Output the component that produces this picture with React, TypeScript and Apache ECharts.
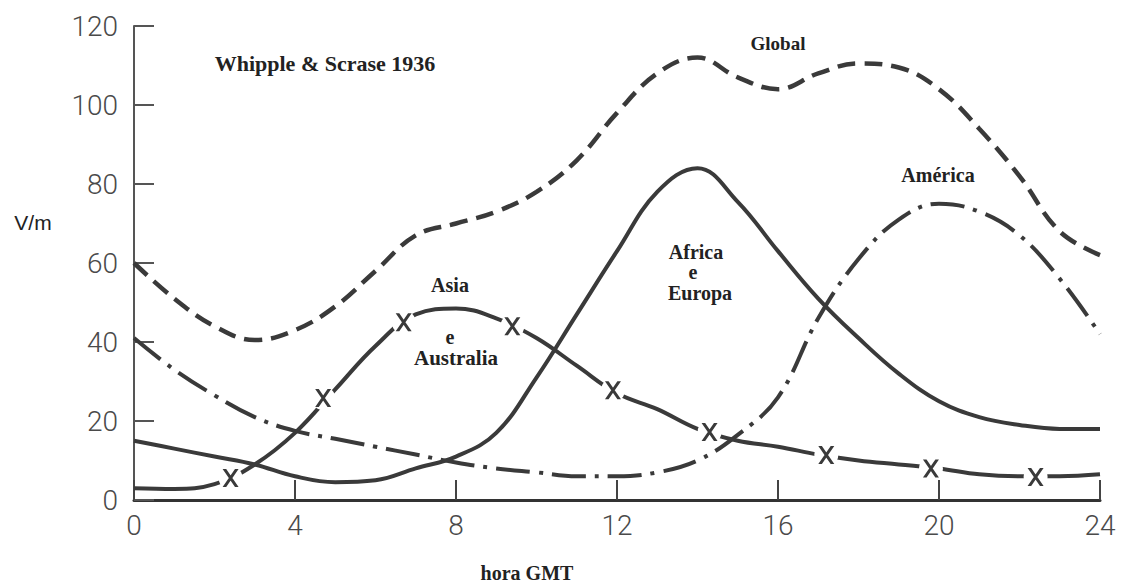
import React, { useEffect, useRef } from "react";
import * as echarts from "echarts";

const hours = [0, 1, 2, 3, 4, 5, 6, 7, 8, 9, 10, 11, 12, 13, 14, 15, 16, 17, 18, 19, 20, 21, 22, 23, 24];
const globalValues = [60, 51, 44, 40.5, 43, 49, 58, 67, 70, 73, 78, 86, 98, 108, 112, 107, 104, 108, 110.5, 109.5, 104, 94, 82, 68, 62];
const africaEuropaValues = [15, 13, 11, 9, 6, 4.5, 5, 8, 11, 17, 31, 47, 63, 78, 84, 75.5, 63, 51, 41, 32, 25, 21, 19, 18, 18];
const americaValues = [41, 33, 26.5, 21, 17.5, 15.5, 13.5, 11.5, 9.5, 8, 7, 6, 6, 7, 10, 16.5, 26, 46, 61, 71, 75, 73, 67, 56, 42];
const asiaValues = [3, 2.8, 4, 9, 17, 28, 39, 47, 48.5, 46, 41, 34, 27, 23, 18, 15, 13.5, 11.5, 10, 9, 8, 6.5, 6, 6, 6.5];
const asiaMarkerHours = [2.4, 4.7, 6.7, 9.4, 11.9, 14.3, 17.2, 19.8, 22.4];
const asiaMarkerValues = [5.6, 25.8, 45, 44, 27.8, 17.2, 11.4, 8, 5.8];

const zip = (xs: number[], ys: number[]) => xs.map((x, i) => [x, ys[i]]);

const INK = "#3a3a3a";
const X_PATH = "path://M0,0L3.6,0L16,18L12.4,18Z M12.4,0L16,0L3.6,18L0,18Z";

export default function App() {
  const ref = useRef<HTMLDivElement>(null);
  useEffect(() => {
    if (!ref.current) return;
    const chart = echarts.init(ref.current, undefined, { renderer: "svg" });
    const serif = '"Liberation Serif", "Times New Roman", serif';
    const txt = (text: string, x: number, y: number, size: number, font = serif, weight = "bold") => ({
      type: "text",
      x,
      y,
      z: 10,
      style: {
        text,
        fill: "#222",
        font: `${weight} ${size}px ${font}`,
        textAlign: "center",
        textVerticalAlign: "middle",
        align: "center",
        verticalAlign: "middle",
      },
    });
    chart.setOption({
      animation: false,
      backgroundColor: "#fff",
      grid: { left: 134, right: 27, top: 26, bottom: 84, containLabel: false },
      xAxis: {
        type: "value",
        min: 0,
        max: 24,
        interval: 4,
        splitLine: { show: false },
        axisLine: { show: true, lineStyle: { color: "#333", width: 3 } },
        axisTick: { show: true, inside: true, length: 20, lineStyle: { color: "#444", width: 2 } },
        axisLabel: { fontSize: 28, fontFamily: "Roboto", fontWeight: 300, color: "#4a4a4a", margin: 11 },
      },
      yAxis: {
        type: "value",
        min: 0,
        max: 120,
        interval: 20,
        splitLine: { show: false },
        axisLine: { show: true, lineStyle: { color: "#555", width: 2 } },
        axisTick: { show: true, inside: true, length: 20, lineStyle: { color: "#555", width: 2 } },
        axisLabel: { fontSize: 28, fontFamily: "Roboto", fontWeight: 300, color: "#4a4a4a", margin: 16 },
      },
      series: [
        {
          name: "Global",
          type: "line",
          smooth: 0.4,
          symbol: "none",
          data: zip(hours, globalValues),
          lineStyle: { color: INK, width: 4.5, type: [18, 9] },
          z: 2,
        },
        {
          name: "Africa e Europa",
          type: "line",
          smooth: 0.4,
          symbol: "none",
          data: zip(hours, africaEuropaValues),
          lineStyle: { color: INK, width: 4 },
          z: 2,
        },
        {
          name: "América",
          type: "line",
          smooth: 0.4,
          symbol: "none",
          data: zip(hours, americaValues),
          lineStyle: { color: INK, width: 4, type: [34, 9, 4, 9] },
          z: 2,
        },
        {
          name: "Asia e Australia",
          type: "line",
          smooth: 0.4,
          symbol: "none",
          data: zip(hours, asiaValues),
          lineStyle: { color: INK, width: 4 },
          z: 2,
        },
        {
          name: "Asia gaps",
          type: "scatter",
          symbol: "circle",
          symbolSize: 24,
          silent: true,
          data: zip(asiaMarkerHours, asiaMarkerValues),
          itemStyle: { color: "#ffffff", opacity: 1, borderWidth: 0 },
          emphasis: { disabled: true },
          z: 5,
        },
        {
          name: "Asia marks",
          type: "scatter",
          symbol: X_PATH,
          symbolSize: [16, 18],
          silent: true,
          data: zip(asiaMarkerHours, asiaMarkerValues),
          itemStyle: { color: INK, opacity: 1 },
          emphasis: { disabled: true },
          z: 6,
        },
      ],
      graphic: [
        txt("Whipple & Scrase 1936", 325, 63, 22),
        txt("Global", 778, 43, 19),
        txt("América", 938, 175, 20),
        txt("Asia", 450, 285, 20),
        txt("e", 450, 337, 20),
        txt("Australia", 456, 358, 21),
        txt("Africa", 696, 252, 20),
        txt("e", 693, 272, 20),
        txt("Europa", 700, 293, 20),
        txt("hora GMT", 527, 573, 20),
        txt("V/m", 33, 222, 21, '"Liberation Sans", Arial, sans-serif', "normal"),
      ],
    });
    return () => chart.dispose();
  }, []);
  return (
    <div
      ref={ref}
      style={{ position: "fixed", left: 0, top: 0, width: 1127, height: 584, background: "#fff" }}
    />
  );
}
